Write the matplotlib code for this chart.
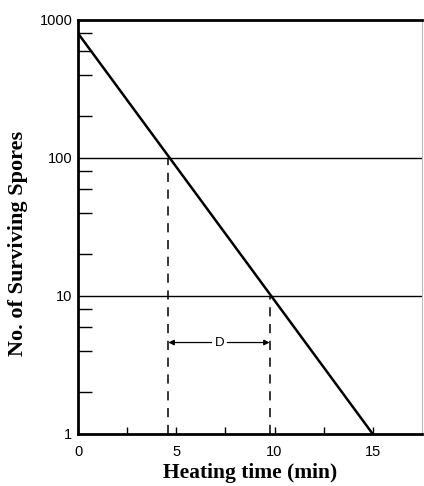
import numpy as np
import matplotlib.pyplot as plt
from matplotlib.ticker import FixedLocator, NullFormatter

# survival curve
time_min = [0, 15]
spores = [800, 1]

# the two D-value cut points
d_times = [4.6, 9.75]
d_levels = [100, 10]
arrow_level = 4.6

x_ticks = [0, 5, 10, 15]
x_minor = [2.5, 7.5, 12.5]
y_ticks = [1, 10, 100, 1000]
y_minor = [2, 4, 6, 8, 20, 40, 60, 80, 200, 400, 600, 800]

fig = plt.figure(figsize=(4.24, 4.86), dpi=100)
ax = fig.add_axes([0.184, 0.107, 0.811, 0.852])

ax.set_yscale('log')
ax.set_xlim(0, 17.5)
ax.set_ylim(1, 1000)

ax.plot(time_min, spores, color='black', lw=1.8, solid_capstyle='butt')

# horizontal reference lines at 10 and 100
for lvl in d_levels:
    ax.axhline(lvl, color='black', lw=1.0)

# dashed drops
for t, lvl in zip(d_times, d_levels):
    ax.plot([t, t], [1, lvl], color='black', lw=1.1, ls=(0, (6, 5)))

# D arrows
ax.annotate('', xy=(d_times[0], arrow_level), xytext=(6.8, arrow_level),
            arrowprops=dict(arrowstyle='-|>', color='black', lw=0.9,
                            mutation_scale=8, shrinkA=0, shrinkB=0))
ax.annotate('', xy=(d_times[1], arrow_level), xytext=(7.6, arrow_level),
            arrowprops=dict(arrowstyle='-|>', color='black', lw=0.9,
                            mutation_scale=8, shrinkA=0, shrinkB=0))
ax.text(7.2, arrow_level, 'D', ha='center', va='center', fontsize=9.5,
        family='Liberation Sans')

ax.xaxis.set_major_locator(FixedLocator(x_ticks))
ax.xaxis.set_minor_locator(FixedLocator(x_minor))
ax.yaxis.set_major_locator(FixedLocator(y_ticks))
ax.yaxis.set_minor_locator(FixedLocator(y_minor))
ax.yaxis.set_minor_formatter(NullFormatter())
ax.set_xticklabels([str(v) for v in x_ticks])
ax.set_yticklabels([str(v) for v in y_ticks])

ax.tick_params(axis='both', which='both', direction='in', color='black')
ax.tick_params(axis='x', which='both', length=5, width=1, pad=8,
               labelsize=10.5)
ax.tick_params(axis='y', which='major', length=0, pad=4, labelsize=10.5)
ax.tick_params(axis='y', which='minor', length=10, width=1)
for lab in ax.get_xticklabels() + ax.get_yticklabels():
    lab.set_family('Liberation Sans')

for side in ['left', 'bottom', 'top']:
    ax.spines[side].set_linewidth(2.0)
ax.spines['right'].set_linewidth(0.8)
ax.spines['right'].set_color('#bbbbbb')

ax.set_xlabel('Heating time (min)', family='Liberation Serif',
              fontweight='bold', fontsize=15.5, labelpad=3)
ax.set_ylabel('No. of Surviving Spores', family='Liberation Serif',
              fontweight='bold', fontsize=16)
ax.yaxis.set_label_coords(-0.145, 0.46)

fig.savefig('out.png', dpi=100)
